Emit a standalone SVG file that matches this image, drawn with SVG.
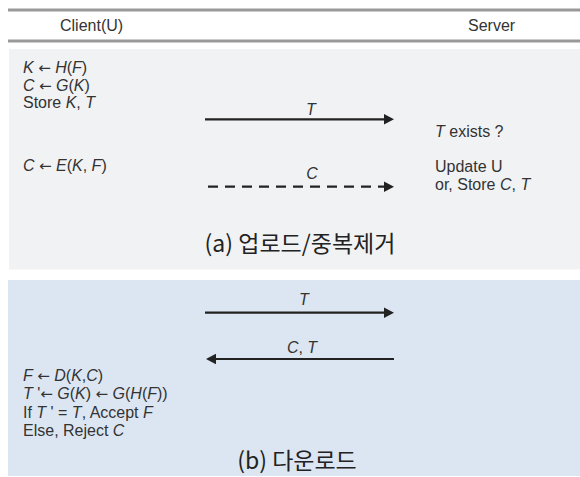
<svg xmlns="http://www.w3.org/2000/svg" width="580" height="477" viewBox="0 0 580 477">
  <style>
    .t { font-family: "Liberation Sans", Arial, sans-serif; font-size: 16px; fill: #333; }
    .i { font-style: italic; }
    .a { font-family: "DejaVu Sans", sans-serif; font-size: 15px; }
    .title { font-family: "Noto Sans CJK KR", "Noto Sans", sans-serif; font-size: 23px; fill: #222; }
    .rule { stroke: #999; stroke-width: 3; }
    .msg { stroke: #222; stroke-width: 2.2; fill: none; }
    .dash { stroke-dasharray: 10 7; }
  </style>
  <defs>
    <marker id="head" viewBox="0 0 10 10.6" refX="0" refY="5.3" markerWidth="10" markerHeight="10.6" markerUnits="userSpaceOnUse" orient="auto">
      <path d="M0,0 L10,5.3 L0,10.6 z" fill="#222"/>
    </marker>
  </defs>

  <!-- header rules and column titles -->
  <g id="header">
    <line class="rule" x1="8" y1="10" x2="580" y2="10"/>
    <line class="rule" x1="8" y1="41" x2="580" y2="41"/>
    <text class="t" x="60" y="31">Client(U)</text>
    <text class="t" x="468" y="31">Server</text>
  </g>

  <!-- (a) upload / deduplication -->
  <g id="panel-upload">
    <rect x="9" y="49" width="571" height="220.5" fill="#f1f2f4"/>
    <text class="t" x="23" y="73"><tspan class="i">K</tspan> <tspan class="a">←</tspan> <tspan class="i">H</tspan>(<tspan class="i">F</tspan>)</text>
    <text class="t" x="23" y="90.5"><tspan class="i">C</tspan> <tspan class="a">←</tspan> <tspan class="i">G</tspan>(<tspan class="i">K</tspan>)</text>
    <text class="t" x="23" y="108">Store <tspan class="i">K</tspan>, <tspan class="i">T</tspan></text>
    <text class="t" x="23" y="171"><tspan class="i">C</tspan> <tspan class="a">←</tspan> <tspan class="i">E</tspan>(<tspan class="i">K</tspan>, <tspan class="i">F</tspan>)</text>
    <text class="t" x="435" y="137"><tspan class="i">T</tspan> exists ?</text>
    <text class="t" x="435" y="172">Update U</text>
    <text class="t" x="435" y="190">or, Store <tspan class="i">C</tspan>, <tspan class="i">T</tspan></text>
    <text class="title" x="300" y="252" text-anchor="middle">(a) 업로드/중복제거</text>
  </g>

  <!-- (b) download -->
  <g id="panel-download">
    <rect x="8" y="280" width="572" height="196" fill="#dce6f2"/>
    <text class="t" x="23" y="381"><tspan class="i">F</tspan> <tspan class="a">←</tspan> <tspan class="i">D</tspan>(<tspan class="i">K</tspan>,<tspan class="i">C</tspan>)</text>
    <text class="t" x="23" y="399"><tspan class="i">T</tspan> '<tspan class="a">←</tspan> <tspan class="i">G</tspan>(<tspan class="i">K</tspan>) <tspan class="a">←</tspan> <tspan class="i">G</tspan>(<tspan class="i">H</tspan>(<tspan class="i">F</tspan>))</text>
    <text class="t" x="23" y="417.5">If <tspan class="i">T</tspan> ' = <tspan class="i">T</tspan>, Accept <tspan class="i">F</tspan></text>
    <text class="t" x="23" y="436">Else, Reject <tspan class="i">C</tspan></text>
    <text class="title" x="297" y="469" text-anchor="middle">(b) 다운로드</text>
  </g>

  <!-- messages between client and server -->
  <g id="connectors">
    <line class="msg" x1="205" y1="119.3" x2="384" y2="119.3" marker-end="url(#head)"/>
    <text class="t i" x="311" y="115" text-anchor="middle">T</text>
    <line class="msg dash" x1="208" y1="186.7" x2="384" y2="186.7" marker-end="url(#head)"/>
    <text class="t i" x="312" y="179" text-anchor="middle">C</text>
    <line class="msg" x1="205" y1="312.7" x2="384" y2="312.7" marker-end="url(#head)"/>
    <text class="t i" x="304" y="305" text-anchor="middle">T</text>
    <line class="msg" x1="394" y1="359" x2="216" y2="359" marker-end="url(#head)"/>
    <text class="t" x="302" y="353" text-anchor="middle"><tspan class="i">C</tspan>, <tspan class="i">T</tspan></text>
  </g>
</svg>
